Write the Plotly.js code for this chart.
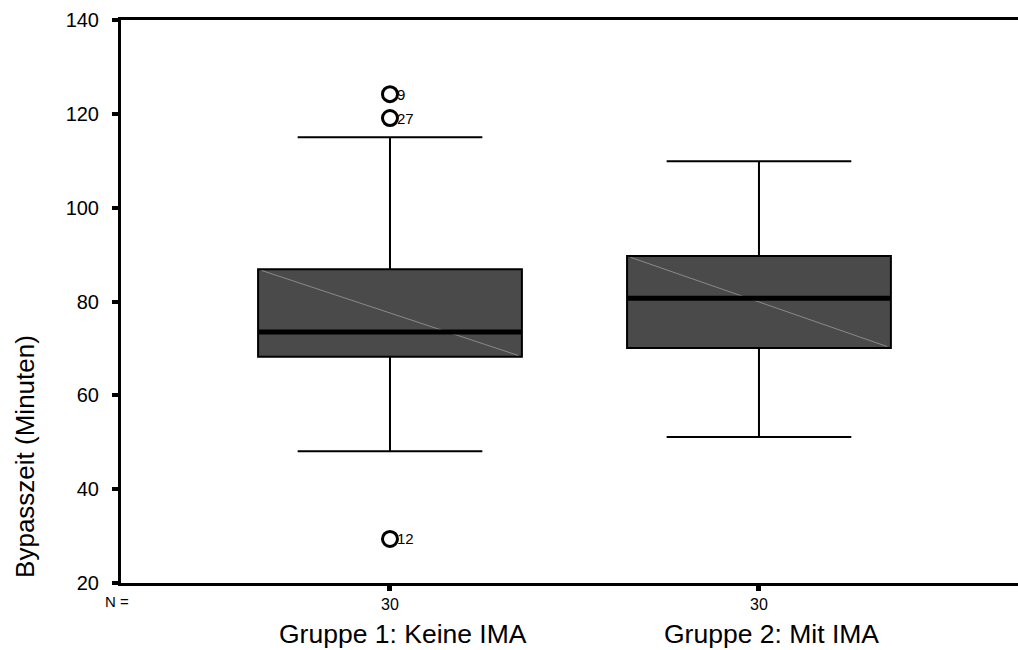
<!DOCTYPE html>
<html>
<head>
<meta charset="utf-8">
<script src="https://cdn.plot.ly/plotly-3.0.1.min.js"></script>
<style>html,body{margin:0;padding:0;background:#fff;}#chart{width:1018px;height:650px;}</style>
</head>
<body>
<div id="chart"></div>
<script>
// ---- data ----
const groups = ['Gruppe 1: Keine IMA', 'Gruppe 2: Mit IMA'];
const positions = [1, 2];
const nCounts = ['30', '30'];
const q1 = [68.2, 70.1];
const median = [73.5, 80.7];
const q3 = [86.9, 89.7];
const lowerWhisker = [48.1, 51.1];
const upperWhisker = [115, 109.9];
const outlierPos = [1, 1, 1];
const outlierValues = [124.2, 119.1, 29.4];
const outlierLabels = ['9', '27', '12'];
const yTicks = [20, 40, 60, 80, 100, 120, 140];
const yTitle = 'Bypasszeit (Minuten)';

// ---- styles ----
const boxWidth = 0.715;
const FONT = 'Liberation Sans, Arial, sans-serif';

const traces = [];
positions.forEach((p, i) => {
  traces.push({
    type: 'box',
    x: [p],
    q1: [q1[i]], median: [median[i]], q3: [q3[i]],
    lowerfence: [lowerWhisker[i]], upperfence: [upperWhisker[i]],
    width: boxWidth,
    whiskerwidth: 0.7,
    boxpoints: false,
    fillcolor: '#4a4a4a',
    line: {color: '#000', width: 2},
    hoverinfo: 'skip',
    showlegend: false
  });
  // shading artifact diagonal
  traces.push({
    type: 'scatter', mode: 'lines',
    x: [p - boxWidth / 2 + 0.01, p + boxWidth / 2 - 0.01],
    y: [q3[i] - 0.3, q1[i] + 0.3],
    line: {color: '#8a8a8a', width: 1},
    hoverinfo: 'skip', showlegend: false
  });
  // thick median
  traces.push({
    type: 'scatter', mode: 'lines',
    x: [p - boxWidth / 2, p + boxWidth / 2],
    y: [median[i], median[i]],
    line: {color: '#000', width: 5},
    hoverinfo: 'skip', showlegend: false
  });
});

traces.push({
  type: 'scatter', mode: 'markers',
  x: outlierPos, y: outlierValues,
  marker: {symbol: 'circle-open', size: 15, color: '#000', line: {width: 3, color: '#000'}},
  hoverinfo: 'skip', showlegend: false
});

const annotations = groups.map((g, i) => ({
  x: positions[i], xref: 'x', y: 0, yref: 'paper',
  yshift: -51, xshift: 13,
  text: g, showarrow: false,
  font: {family: FONT, size: 26.5, color: '#000'},
  xanchor: 'center', yanchor: 'middle'
}));
outlierValues.forEach((v, i) => annotations.push({
  x: outlierPos[i], xref: 'x', y: v, yref: 'y',
  xshift: 5, text: outlierLabels[i], showarrow: false,
  font: {family: FONT, size: 15, color: '#000'},
  xanchor: 'left', yanchor: 'middle'
}));
annotations.push({
  x: 0, xref: 'paper', y: 0, yref: 'paper',
  xshift: -4, yshift: -18,
  text: 'N =', showarrow: false,
  font: {family: FONT, size: 15, color: '#000'},
  xanchor: 'center', yanchor: 'middle'
});
annotations.push({
  x: 0, xref: 'paper', y: 0.224, yref: 'paper',
  xshift: -96, text: yTitle, showarrow: false, textangle: -90,
  font: {family: FONT, size: 26, color: '#000'},
  xanchor: 'center', yanchor: 'middle'
});

const layout = {
  width: 1018, height: 650,
  margin: {l: 121, r: 0, t: 20, b: 67, pad: 0},
  paper_bgcolor: '#fff', plot_bgcolor: '#fff',
  font: {family: FONT, color: '#000'},
  showlegend: false,
  xaxis: {
    range: [0.271, 2.702],
    tickvals: positions, ticktext: nCounts,
    ticks: 'outside', ticklen: 5, tickwidth: 5, tickcolor: '#000',
    tickfont: {family: FONT, size: 16, color: '#000'},
    showline: true, linecolor: '#000', linewidth: 3, mirror: true,
    showgrid: false, zeroline: false, fixedrange: true
  },
  yaxis: {
    range: [20, 140],
    tickvals: yTicks,
    ticks: 'outside', ticklen: 6, tickwidth: 4, tickcolor: '#000',
    ticklabelstandoff: 9,
    tickfont: {family: FONT, size: 20, color: '#000'},
    showline: true, linecolor: '#000', linewidth: 3,
    showgrid: false, zeroline: false, fixedrange: true
  },
  annotations: annotations
};

Plotly.newPlot('chart', traces, layout, {displayModeBar: false, staticPlot: true});
</script>
</body>
</html>
